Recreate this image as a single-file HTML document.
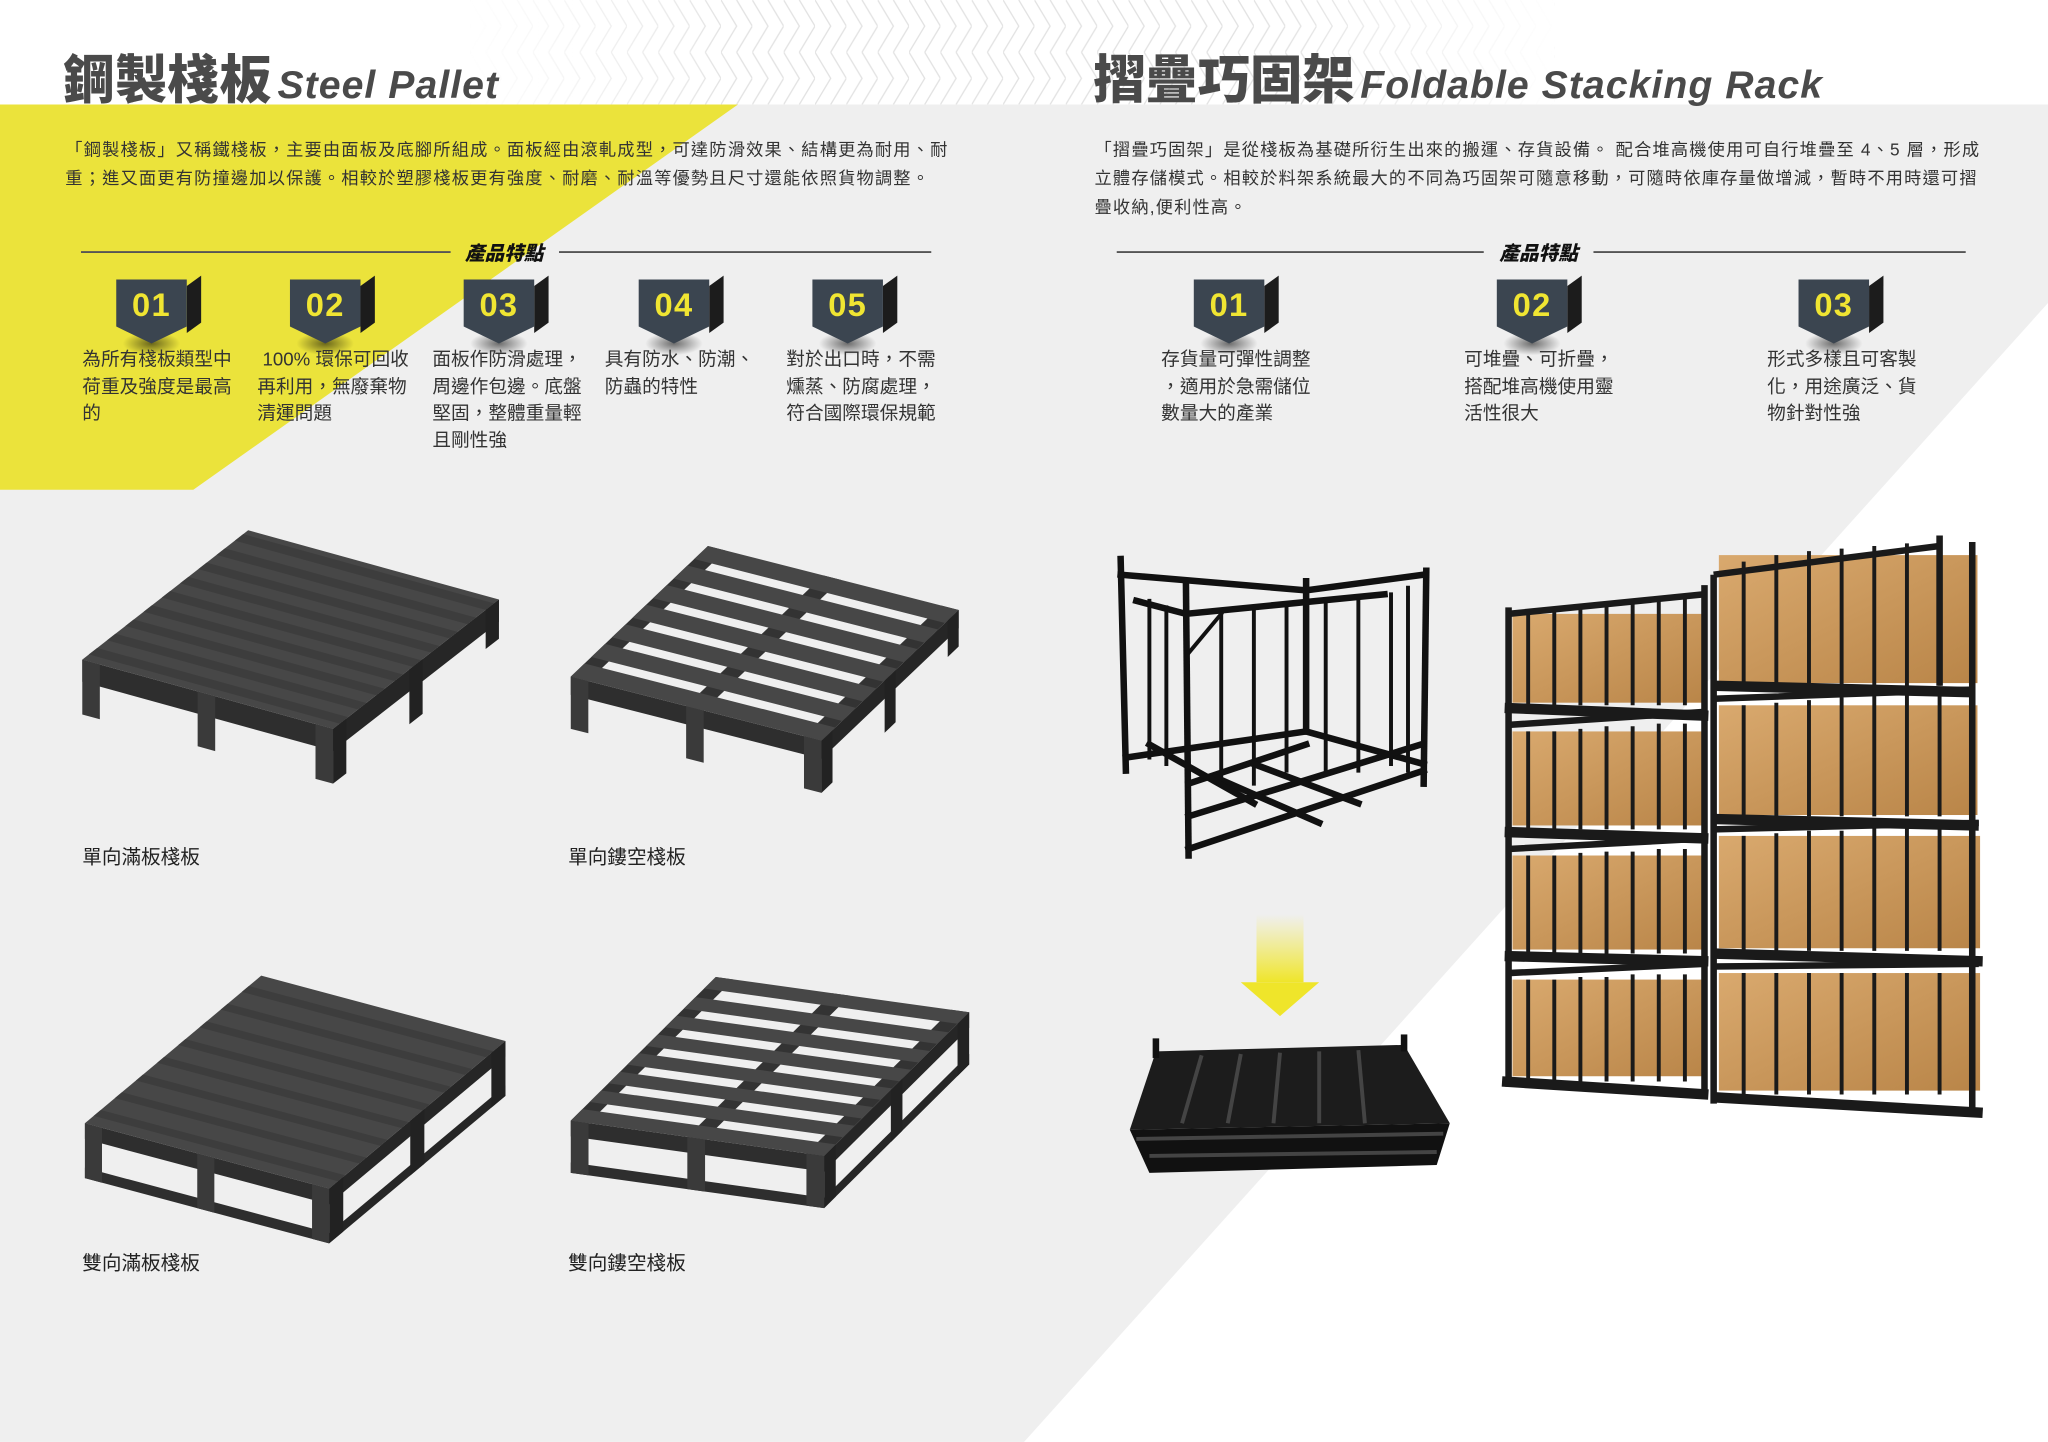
<!DOCTYPE html>
<html><head><meta charset="utf-8">
<style>
html,body{margin:0;padding:0;width:2048px;height:1442px;overflow:hidden;background:#fff}
#w{position:absolute;left:0;top:0;width:1568px;height:1104px;transform:scale(1.30612);transform-origin:0 0;font-family:"Liberation Sans","Noto Sans CJK TC",sans-serif;color:#333}
.a{position:absolute;white-space:nowrap}
.t{font-family:"Noto Sans CJK TC","Liberation Sans",sans-serif;font-weight:900;font-size:40px;color:#4a4a4a;line-height:1}
.e{font-family:"Liberation Sans",sans-serif;font-weight:bold;font-style:italic;font-size:30px;letter-spacing:0.8px;color:#4a4a4a}
.p{font-size:13.2px;line-height:22px;color:#333;letter-spacing:0.9px}
.f{font-size:14.3px;line-height:20.5px;color:#333}
.h{font-size:15px;font-weight:900;font-style:italic;color:#111}
.c{font-size:15px;color:#222}
</style></head><body><div id="w">
<svg width="1568" height="1104" style="position:absolute;left:0;top:0">
<defs>
<pattern id="zz" width="24" height="40" patternUnits="userSpaceOnUse"><path d="M0 0 L12 20 L0 40 M12 0 L24 20 L12 40" stroke="#e2e2e2" stroke-width="1" fill="none"/></pattern>
<linearGradient id="zf" x1="0" x2="1"><stop offset="0" stop-color="#fff" stop-opacity="1"/><stop offset="0.25" stop-color="#fff" stop-opacity="0"/><stop offset="0.75" stop-color="#fff" stop-opacity="0"/><stop offset="1" stop-color="#fff" stop-opacity="1"/></linearGradient>
<linearGradient id="ar" x1="0" y1="0" x2="0" y2="1"><stop offset="0" stop-color="#f3ea3a" stop-opacity="0"/><stop offset="1" stop-color="#efe52a"/></linearGradient>
<linearGradient id="bx" x1="0" y1="0" x2="1" y2="1"><stop offset="0" stop-color="#d9a96e"/><stop offset="1" stop-color="#b98548"/></linearGradient>
<radialGradient id="sh"><stop offset="0" stop-color="#000" stop-opacity="0.55"/><stop offset="1" stop-color="#000" stop-opacity="0"/></radialGradient>
</defs>
<rect x="360" y="0" width="830" height="80" fill="url(#zz)"/>
<rect x="360" y="0" width="830" height="80" fill="url(#zf)"/>
<rect x="0" y="80" width="1568" height="1024" fill="#efefef"/>
<polygon points="0,80 565,80 148,375 0,375" fill="#ebe33b"/>
<polygon points="1568,232 1568,1104 784,1104" fill="#fff"/>
<g stroke="#555" stroke-width="1.5"><line x1="62" y1="193" x2="345" y2="193"/><line x1="428" y1="193" x2="713" y2="193"/><line x1="855" y1="193" x2="1136" y2="193"/><line x1="1220" y1="193" x2="1505" y2="193"/></g>
<g id="bd">
<ellipse cx="116" cy="263" rx="22" ry="9" fill="url(#sh)"/>
<polygon points="143,219 154,211 154,247 143,255" fill="#1c1c1c"/>
<polygon points="89,214 143,214 143,250 116,263 89,250" fill="#3b4550"/>
</g>
<use href="#bd" x="133"/><use href="#bd" x="266"/><use href="#bd" x="400"/><use href="#bd" x="533"/>
<use href="#bd" x="825"/><use href="#bd" x="1057"/><use href="#bd" x="1288"/>
<g font-family="Liberation Sans Narrow,Liberation Sans,sans-serif" font-weight="bold" font-size="25" fill="#f0e532" text-anchor="middle" letter-spacing="1">
<text x="116" y="242">01</text><text x="249" y="242">02</text><text x="382" y="242">03</text><text x="516" y="242">04</text><text x="649" y="242">05</text>
<text x="941" y="242">01</text><text x="1173" y="242">02</text><text x="1404" y="242">03</text></g>

<g fill="#3a3a3a">
<g transform="matrix(192 53 0 1 63 505)"><rect x="0" y="0" width="1" height="17" fill="#2e2e2e"/><rect x="0" y="0" width="0.07" height="42"/><rect x="0.46" y="0" width="0.07" height="42"/><rect x="0.93" y="0" width="0.07" height="42"/></g>
<g transform="matrix(127 -99 0 1 255 558)"><rect x="0" y="0" width="1" height="17" fill="#262626"/><rect x="0" y="0" width="0.08" height="42" fill="#222"/><rect x="0.46" y="0" width="0.08" height="42" fill="#222"/><rect x="0.92" y="0" width="0.08" height="30" fill="#222"/></g>
<g transform="matrix(192 53 127 -99 63 505)"><rect width="1" height="1" fill="#474747"/>
<g fill="#3d3d3d"><rect y="0.04" width="1" height="0.05"/><rect y="0.15" width="1" height="0.05"/><rect y="0.26" width="1" height="0.05"/><rect y="0.37" width="1" height="0.05"/><rect y="0.48" width="1" height="0.05"/><rect y="0.59" width="1" height="0.05"/><rect y="0.70" width="1" height="0.05"/><rect y="0.81" width="1" height="0.05"/><rect y="0.92" width="1" height="0.05"/></g></g>
</g>
<g fill="#3a3a3a">
<g transform="matrix(192 49 0 1 437 518)"><rect width="1" height="14" fill="#2e2e2e"/><rect width="0.07" height="40"/><rect x="0.46" width="0.07" height="40"/><rect x="0.93" width="0.07" height="40"/></g>
<g transform="matrix(105 -100 0 1 629 567)"><rect width="1" height="14" fill="#262626"/><rect width="0.08" height="40" fill="#222"/><rect x="0.46" width="0.08" height="40" fill="#222"/><rect x="0.92" width="0.08" height="28" fill="#222"/></g>
<g transform="matrix(192 49 105 -100 437 518)">
<rect x="0" y="0" width="0.07" height="1" fill="#333"/><rect x="0.46" y="0" width="0.07" height="1" fill="#333"/><rect x="0.93" y="0" width="0.07" height="1" fill="#333"/>
<g fill="#474747"><rect y="0" width="1" height="0.1"/><rect y="0.15" width="1" height="0.1"/><rect y="0.3" width="1" height="0.1"/><rect y="0.45" width="1" height="0.1"/><rect y="0.6" width="1" height="0.1"/><rect y="0.75" width="1" height="0.1"/><rect y="0.9" width="1" height="0.1"/></g></g>
</g>
<g fill="#3a3a3a">
<g transform="matrix(187 50 0 1 65 860)"><rect width="1" height="12" fill="#2e2e2e"/><rect y="34" width="1" height="8" fill="#2e2e2e"/><rect width="0.07" height="42"/><rect x="0.46" width="0.07" height="42"/><rect x="0.93" width="0.07" height="42"/></g>
<g transform="matrix(135 -113 0 1 252 910)"><rect width="1" height="12" fill="#262626"/><rect y="34" width="1" height="8" fill="#262626"/><rect width="0.08" height="42" fill="#222"/><rect x="0.46" width="0.08" height="42" fill="#222"/><rect x="0.92" width="0.08" height="42" fill="#222"/></g>
<g transform="matrix(187 50 135 -113 65 860)"><rect width="1" height="1" fill="#474747"/>
<g fill="#3d3d3d"><rect y="0.05" width="1" height="0.04"/><rect y="0.17" width="1" height="0.04"/><rect y="0.29" width="1" height="0.04"/><rect y="0.41" width="1" height="0.04"/><rect y="0.53" width="1" height="0.04"/><rect y="0.65" width="1" height="0.04"/><rect y="0.77" width="1" height="0.04"/><rect y="0.89" width="1" height="0.04"/></g></g>
</g>
<g fill="#3a3a3a">
<g transform="matrix(194 27 0 1 437 858)"><rect width="1" height="12" fill="#2e2e2e"/><rect y="32" width="1" height="8" fill="#2e2e2e"/><rect width="0.07" height="40"/><rect x="0.46" width="0.07" height="40"/><rect x="0.93" width="0.07" height="40"/></g>
<g transform="matrix(111 -110 0 1 631 885)"><rect width="1" height="12" fill="#262626"/><rect y="32" width="1" height="8" fill="#262626"/><rect width="0.08" height="40" fill="#222"/><rect x="0.46" width="0.08" height="40" fill="#222"/><rect x="0.92" width="0.08" height="40" fill="#222"/></g>
<g transform="matrix(194 27 111 -110 437 858)">
<rect width="0.07" height="1" fill="#333"/><rect x="0.46" width="0.07" height="1" fill="#333"/><rect x="0.93" width="0.07" height="1" fill="#333"/>
<g fill="#474747"><rect y="0" width="1" height="0.08"/><rect y="0.13" width="1" height="0.08"/><rect y="0.26" width="1" height="0.08"/><rect y="0.39" width="1" height="0.08"/><rect y="0.52" width="1" height="0.08"/><rect y="0.65" width="1" height="0.08"/><rect y="0.78" width="1" height="0.08"/><rect y="0.92" width="1" height="0.08"/></g></g>
</g>

<g stroke="#111" stroke-width="5" fill="none" stroke-linecap="square">
<polyline points="858,440 1000,452 1090,440"/>
<polyline points="870,460 908,470 1060,455"/>
<line x1="858" y1="428" x2="862" y2="590"/><line x1="908" y1="448" x2="910" y2="655"/><line x1="1092" y1="437" x2="1090" y2="600"/><line x1="1000" y1="445" x2="1000" y2="560"/>
<g stroke-width="3"><line x1="935" y1="470" x2="935" y2="600"/><line x1="960" y1="468" x2="960" y2="600"/><line x1="985" y1="466" x2="985" y2="590"/><line x1="1015" y1="463" x2="1015" y2="590"/><line x1="1040" y1="460" x2="1040" y2="590"/><line x1="1065" y1="455" x2="1065" y2="585"/><line x1="880" y1="460" x2="880" y2="580"/><line x1="893" y1="465" x2="893" y2="585"/><line x1="1078" y1="450" x2="1078" y2="590"/><line x1="910" y1="500" x2="935" y2="470"/></g>
<polyline points="862,580 1000,560 1090,585"/>
<polyline points="910,650 1090,590"/>
<polyline points="910,625 1088,570"/>
<polyline points="910,600 1000,570"/>
<line x1="930" y1="595" x2="1010" y2="630"/><line x1="960" y1="585" x2="1040" y2="615"/><line x1="880" y1="570" x2="960" y2="615"/>
</g>
<rect x="962" y="700" width="36" height="52" fill="url(#ar)"/>
<polygon points="950,752 1010,752 980,778" fill="#efe52a"/>
<g>
<polygon points="885,805 1075,800 1110,860 865,865" fill="#1c1c1c"/>
<polygon points="865,865 1110,860 1100,892 880,898" fill="#111"/>
<g stroke="#444" stroke-width="3"><line x1="920" y1="808" x2="905" y2="860"/><line x1="950" y1="807" x2="940" y2="860"/><line x1="980" y1="806" x2="975" y2="860"/><line x1="1010" y1="805" x2="1010" y2="860"/><line x1="1040" y1="804" x2="1045" y2="860"/><line x1="870" y1="872" x2="1105" y2="868"/><line x1="880" y1="885" x2="1100" y2="882"/></g>
<g stroke="#111" stroke-width="5"><line x1="885" y1="795" x2="885" y2="810"/><line x1="1075" y1="792" x2="1075" y2="805"/></g>
</g>
<g>
<rect x="1158" y="470" width="148" height="68" fill="url(#bx)"/>
<rect x="1158" y="560" width="148" height="72" fill="url(#bx)"/>
<rect x="1158" y="655" width="148" height="72" fill="url(#bx)"/>
<rect x="1158" y="750" width="148" height="74" fill="url(#bx)"/>
<rect x="1316" y="425" width="198" height="98" fill="url(#bx)"/>
<rect x="1316" y="540" width="198" height="84" fill="url(#bx)"/>
<rect x="1316" y="640" width="200" height="86" fill="url(#bx)"/>
<rect x="1316" y="745" width="200" height="90" fill="url(#bx)"/>
</g>
<g stroke="#1a1a1a" fill="none">
<g stroke-width="3">
<path d="M1170 470V540M1190 468V540M1210 466V540M1230 464V540M1250 462V540M1270 460V540M1290 458V540"/>
<path d="M1170 560V635M1190 560V635M1210 558V635M1230 556V635M1250 556V635M1270 554V635M1290 554V635"/>
<path d="M1170 655V730M1190 655V730M1210 653V730M1230 652V730M1250 652V730M1270 650V730M1290 650V730"/>
<path d="M1170 750V828M1190 750V828M1210 748V828M1230 748V828M1250 746V828M1270 746V828M1290 746V828"/>
<path d="M1335 430V525M1360 425V525M1385 422V525M1410 420V525M1435 418V525M1460 416V525M1485 414V525"/>
<path d="M1335 540V625M1360 538V625M1385 536V625M1410 534V625M1435 532V625M1460 530V625M1485 528V625"/>
<path d="M1335 640V728M1360 638V728M1385 636V728M1410 636V728M1435 634V728M1460 634V728M1485 634V728"/>
<path d="M1335 745V838M1360 745V838M1385 745V838M1410 745V838M1435 745V838M1460 745V838M1485 745V838"/>
</g>
<g stroke-width="5">
<path d="M1155 470L1305 455M1155 555L1305 545M1155 650L1305 642M1155 745L1305 738"/>
<path d="M1312 440L1485 418M1312 535L1510 528M1312 635L1515 630M1312 740L1515 738"/>
<path d="M1155 465V832M1305 448V838M1312 440V845M1510 415V850M1485 410V525"/>
</g>
<g stroke-width="8">
<path d="M1152 542L1308 548M1152 637L1308 642M1152 732L1308 736M1150 828L1308 838"/>
<path d="M1310 525L1512 530M1310 627L1515 632M1310 730L1518 736M1310 840L1518 852"/>
</g>
</g>
</svg>

<div class="a" style="left:48px;top:38px"><span class="t">鋼製棧板</span> <span class="e">Steel Pallet</span></div>
<div class="a" style="left:837px;top:38px"><span class="t">摺疊巧固架</span> <span class="e">Foldable Stacking Rack</span></div>

<div class="a p" style="left:50px;top:104px">「鋼製棧板」又稱鐵棧板，主要由面板及底腳所組成。面板經由滾軋成型，可達防滑效果、結構更為耐用、耐<br>重；進又面更有防撞邊加以保護。相較於塑膠棧板更有強度、耐磨、耐溫等優勢且尺寸還能依照貨物調整。</div>
<div class="a p" style="left:838px;top:104px">「摺疊巧固架」是從棧板為基礎所衍生出來的搬運、存貨設備。 配合堆高機使用可自行堆疊至 4、5 層，形成<br>立體存儲模式。相較於料架系統最大的不同為巧固架可隨意移動，可隨時依庫存量做增減，暫時不用時還可摺<br>疊收納,便利性高。</div>

<div class="a h" style="left:356px;top:183px">產品特點</div>
<div class="a h" style="left:1148px;top:183px">產品特點</div>

<div class="a f" style="left:63px;top:266px">為所有棧板類型中<br>荷重及強度是最高<br>的</div>
<div class="a f" style="left:197px;top:266px">&nbsp;100% 環保可回收<br>再利用，無廢棄物<br>清運問題</div>
<div class="a f" style="left:331px;top:266px">面板作防滑處理，<br>周邊作包邊。底盤<br>堅固，整體重量輕<br>且剛性強</div>
<div class="a f" style="left:463px;top:266px">具有防水、防潮、<br>防蟲的特性</div>
<div class="a f" style="left:602px;top:266px">對於出口時，不需<br>燻蒸、防腐處理，<br>符合國際環保規範</div>
<div class="a f" style="left:889px;top:266px">存貨量可彈性調整<br>，適用於急需儲位<br>數量大的產業</div>
<div class="a f" style="left:1121px;top:266px">可堆疊、可折疊，<br>搭配堆高機使用靈<br>活性很大</div>
<div class="a f" style="left:1353px;top:266px">形式多樣且可客製<br>化，用途廣泛、貨<br>物針對性強</div>

<div class="a c" style="left:63px;top:645px">單向滿板棧板</div>
<div class="a c" style="left:435px;top:645px">單向鏤空棧板</div>
<div class="a c" style="left:63px;top:956px">雙向滿板棧板</div>
<div class="a c" style="left:435px;top:956px">雙向鏤空棧板</div>
</div></body></html>
